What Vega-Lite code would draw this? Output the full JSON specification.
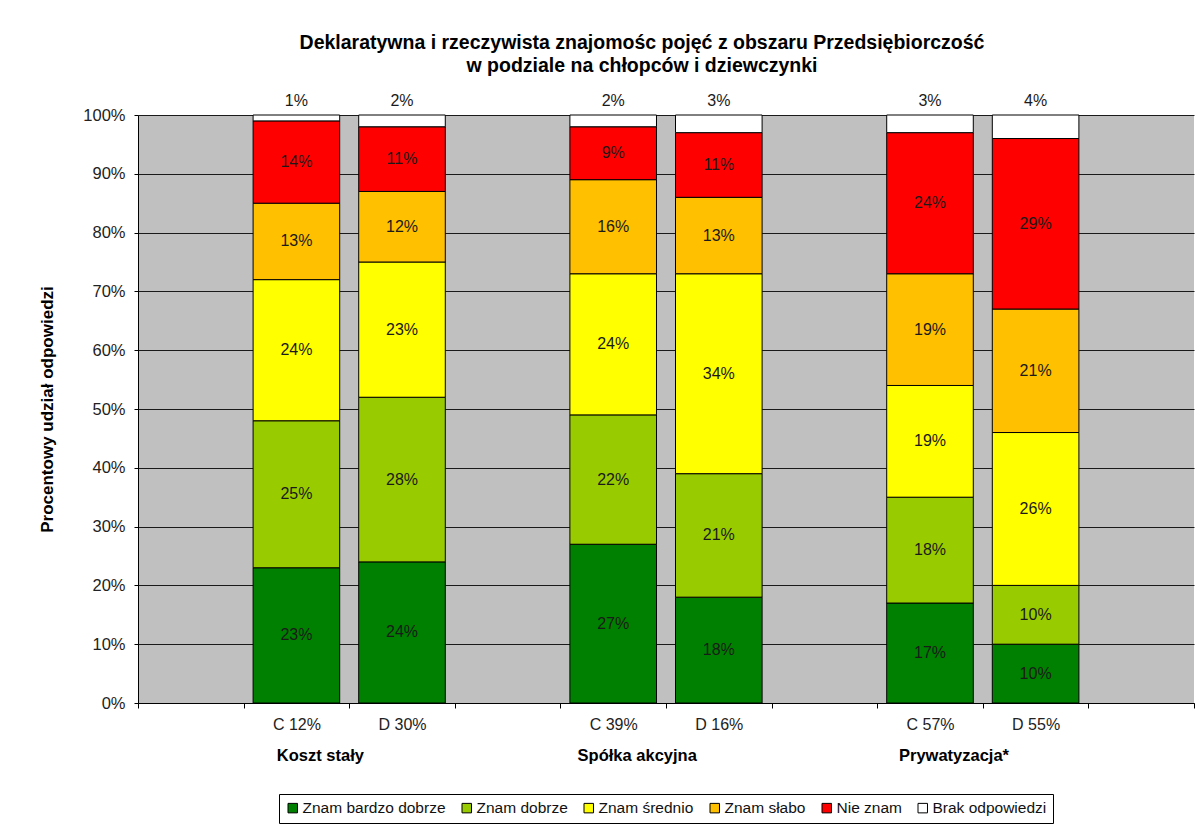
{
  "$schema": "https://vega.github.io/schema/vega-lite/v6.json",
  "width": 1056,
  "height": 588,
  "autosize": {"type": "none"},
  "padding": {"left": 138, "top": 115, "right": 9, "bottom": 122},
  "background": "white",
  "title": {
    "text": ["Deklaratywna i rzeczywista znajomośc pojęć z obszaru Przedsiębiorczość", "w podziale na chłopców i dziewczynki"],
    "font": "Liberation Sans",
    "fontSize": 19.5,
    "fontWeight": "bold",
    "color": "black",
    "anchor": "middle",
    "dx": -24,
    "offset": 17,
    "lineHeight": 23
  },
  "config": {
    "view": {"fill": "#C0C0C0", "stroke": null},
    "font": "Liberation Sans",
    "axis": {"labelFont": "Liberation Sans", "titleFont": "Liberation Sans"},
    "legend": {"layout": {"bottom": {"anchor": "middle"}}}
  },
  "datasets": {
    "groups": [
      {"bar": "C 12%", "group": "Koszt stały"},
      {"bar": "C 39%", "group": "Spółka akcyjna"},
      {"bar": "C 57%", "group": "Prywatyzacja*"}
    ]
  },
  "data": {
    "values": [
      {"bar": "C 12%", "answer": "Znam bardzo dobrze", "v": 0.23},
      {"bar": "C 12%", "answer": "Znam dobrze", "v": 0.25},
      {"bar": "C 12%", "answer": "Znam średnio", "v": 0.24},
      {"bar": "C 12%", "answer": "Znam słabo", "v": 0.13},
      {"bar": "C 12%", "answer": "Nie znam", "v": 0.14},
      {"bar": "C 12%", "answer": "Brak odpowiedzi", "v": 0.01},
      {"bar": "D 30%", "answer": "Znam bardzo dobrze", "v": 0.24},
      {"bar": "D 30%", "answer": "Znam dobrze", "v": 0.28},
      {"bar": "D 30%", "answer": "Znam średnio", "v": 0.23},
      {"bar": "D 30%", "answer": "Znam słabo", "v": 0.12},
      {"bar": "D 30%", "answer": "Nie znam", "v": 0.11},
      {"bar": "D 30%", "answer": "Brak odpowiedzi", "v": 0.02},
      {"bar": "C 39%", "answer": "Znam bardzo dobrze", "v": 0.27},
      {"bar": "C 39%", "answer": "Znam dobrze", "v": 0.22},
      {"bar": "C 39%", "answer": "Znam średnio", "v": 0.24},
      {"bar": "C 39%", "answer": "Znam słabo", "v": 0.16},
      {"bar": "C 39%", "answer": "Nie znam", "v": 0.09},
      {"bar": "C 39%", "answer": "Brak odpowiedzi", "v": 0.02},
      {"bar": "D 16%", "answer": "Znam bardzo dobrze", "v": 0.18},
      {"bar": "D 16%", "answer": "Znam dobrze", "v": 0.21},
      {"bar": "D 16%", "answer": "Znam średnio", "v": 0.34},
      {"bar": "D 16%", "answer": "Znam słabo", "v": 0.13},
      {"bar": "D 16%", "answer": "Nie znam", "v": 0.11},
      {"bar": "D 16%", "answer": "Brak odpowiedzi", "v": 0.03},
      {"bar": "C 57%", "answer": "Znam bardzo dobrze", "v": 0.17},
      {"bar": "C 57%", "answer": "Znam dobrze", "v": 0.18},
      {"bar": "C 57%", "answer": "Znam średnio", "v": 0.19},
      {"bar": "C 57%", "answer": "Znam słabo", "v": 0.19},
      {"bar": "C 57%", "answer": "Nie znam", "v": 0.24},
      {"bar": "C 57%", "answer": "Brak odpowiedzi", "v": 0.03},
      {"bar": "D 55%", "answer": "Znam bardzo dobrze", "v": 0.10},
      {"bar": "D 55%", "answer": "Znam dobrze", "v": 0.10},
      {"bar": "D 55%", "answer": "Znam średnio", "v": 0.26},
      {"bar": "D 55%", "answer": "Znam słabo", "v": 0.21},
      {"bar": "D 55%", "answer": "Nie znam", "v": 0.29},
      {"bar": "D 55%", "answer": "Brak odpowiedzi", "v": 0.04}
    ]
  },
  "transform": [
    {"calculate": "indexof(['Znam bardzo dobrze','Znam dobrze','Znam średnio','Znam słabo','Nie znam','Brak odpowiedzi'], datum.answer)", "as": "k"}
  ],
  "encoding": {
    "x": {
      "field": "bar",
      "type": "nominal",
      "scale": {"type": "band", "domain": ["_1", "C 12%", "D 30%", "_2", "C 39%", "D 16%", "_3", "C 57%", "D 55%", "_4"], "paddingInner": 0, "paddingOuter": 0},
      "axis": {
        "title": null,
        "tickBand": "extent",
        "labelExpr": "indexof(datum.label, '_') == 0 ? '' : datum.label",
        "labelAngle": 0,
        "labelFontSize": 16,
        "labelColor": "#222222",
        "labelPadding": 8,
        "domainColor": "black",
        "tickColor": "black",
        "tickSize": 5,
        "grid": false
      }
    }
  },
  "layer": [
    {
      "mark": {"type": "bar", "width": {"band": 0.82}, "stroke": "black", "strokeWidth": 1},
      "encoding": {
        "y": {
          "field": "v",
          "type": "quantitative",
          "stack": "zero",
          "scale": {"domain": [0, 1], "nice": false},
          "axis": {
            "title": "Procentowy udział odpowiedzi",
            "titleFontSize": 17,
            "titleFontWeight": "bold",
            "titleColor": "black",
            "titlePadding": 26,
            "format": ".0%",
            "values": [0, 0.1, 0.2, 0.3, 0.4, 0.5, 0.6, 0.7, 0.8, 0.9, 1],
            "labelFontSize": 16.5,
            "labelColor": "#222222",
            "labelPadding": 9,
            "grid": true,
            "gridColor": "#1a1a1a",
            "gridWidth": 1,
            "domainColor": "black",
            "tickColor": "black",
            "tickSize": 4
          }
        },
        "color": {
          "field": "answer",
          "type": "nominal",
          "scale": {
            "domain": ["Znam bardzo dobrze", "Znam dobrze", "Znam średnio", "Znam słabo", "Nie znam", "Brak odpowiedzi"],
            "range": ["#008000", "#99CC00", "#FFFF00", "#FFC000", "#FF0000", "#FFFFFF"]
          },
          "legend": {
            "title": null,
            "orient": "bottom",
            "direction": "horizontal",
            "symbolType": "square",
            "symbolSize": 90,
            "symbolStrokeColor": "black",
            "symbolStrokeWidth": 1,
            "labelFontSize": 15.5,
            "labelColor": "#111111",
            "labelFont": "Liberation Sans",
            "columnPadding": 13,
            "labelOffset": 2,
            "strokeColor": "black",
            "padding": 6,
            "offset": 62
          }
        },
        "order": {"field": "k", "type": "quantitative"}
      }
    },
    {
      "transform": [{"filter": "datum.answer != 'Brak odpowiedzi'"}],
      "mark": {"type": "text", "fontSize": 16, "color": "#1a1a1a", "baseline": "middle"},
      "encoding": {
        "y": {"field": "v", "type": "quantitative", "stack": "zero", "bandPosition": 0.5},
        "detail": {"field": "answer"},
        "order": {"field": "k", "type": "quantitative"},
        "text": {"field": "v", "type": "quantitative", "format": ".0%"}
      }
    },
    {
      "transform": [{"filter": "datum.answer == 'Brak odpowiedzi'"}],
      "mark": {"type": "text", "fontSize": 16, "color": "#1a1a1a", "baseline": "middle", "dy": -14},
      "encoding": {
        "y": {"datum": 1, "type": "quantitative"},
        "text": {"field": "v", "type": "quantitative", "format": ".0%"}
      }
    },
    {
      "data": {"name": "groups"},
      "mark": {"type": "text", "fontSize": 16.5, "fontWeight": "bold", "color": "black", "baseline": "middle", "align": "center", "dy": 53, "dx": 24},
      "encoding": {
        "y": {"datum": 0, "type": "quantitative"},
        "text": {"field": "group"}
      }
    }
  ]
}
